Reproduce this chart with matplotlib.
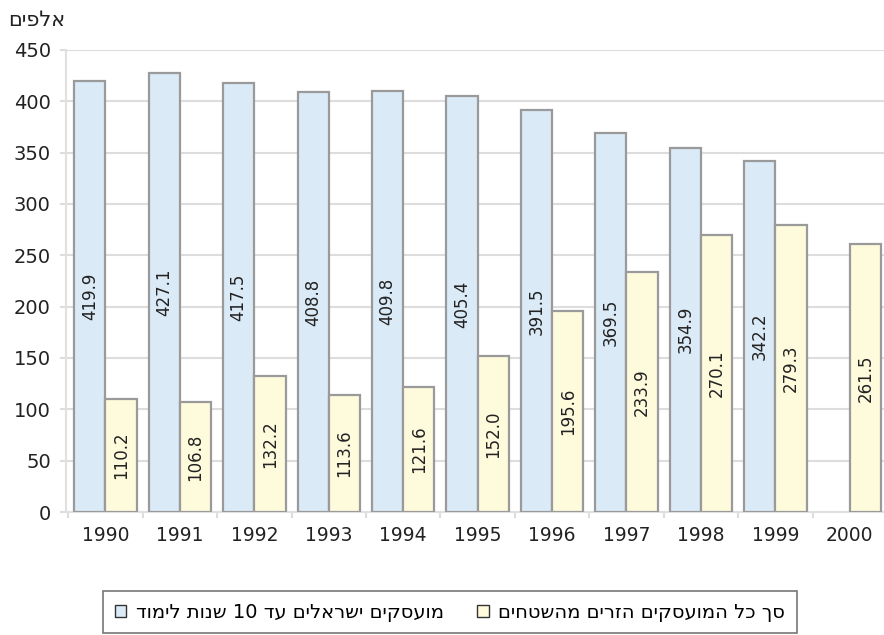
import matplotlib.pyplot as plt
import numpy as np

years = ['1990', '1991', '1992', '1993', '1994', '1995', '1996', '1997', '1998', '1999', '2000']
israeli = [419.9, 427.1, 417.5, 408.8, 409.8, 405.4, 391.5, 369.5, 354.9, 342.2, np.nan]
foreign = [110.2, 106.8, 132.2, 113.6, 121.6, 152.0, 195.6, 233.9, 270.1, 279.3, 261.5]

label_israeli = 'מועסקים ישראלים עד 10 שנות לימוד'
label_foreign = 'סך כל המועסקים הזרים מהשטחים'
unit_label = 'אלפים'


def visual(s):
    # matplotlib lays text out left to right, so flip hebrew by hand
    words = s.split(' ')[::-1]
    out = []
    for w in words:
        if any('\u0590' <= c <= '\u05ff' for c in w):
            out.append(w[::-1])
        else:
            out.append(w)
    return ' '.join(out)


plt.rcParams['font.family'] = ['DejaVu Sans']

fig = plt.figure(figsize=(8.84, 6.35), dpi=100)
ax = fig.add_axes([0.0747, 0.1937, 0.9253, 0.7276])

x = np.arange(len(years))
w = 0.42
edge = '#9a9a9a'

b1 = ax.bar(x - w / 2, israeli, w, color='#dbeaf7', edgecolor=edge, linewidth=1.6,
            label=visual(label_israeli), zorder=3)
b2 = ax.bar(x + w / 2, foreign, w, color='#fefadc', edgecolor=edge, linewidth=1.6,
            label=visual(label_foreign), zorder=3)

for xi, v in zip(x, israeli):
    if not np.isnan(v):
        ax.text(xi - w / 2, v / 2, f'{v:.1f}', rotation=90, ha='center', va='center',
                fontsize=12, color='#222222', zorder=4)
for xi, v in zip(x, foreign):
    ax.text(xi + w / 2, v / 2, f'{v:.1f}', rotation=90, ha='center', va='center',
            fontsize=12, color='#222222', zorder=4)

ax.set_xlim(-0.53, 10.46)
ax.set_ylim(0, 450)
ax.set_yticks(range(0, 451, 50))
ax.set_xticks(x)
ax.set_xticklabels(years)
ax.set_xticks(np.arange(-0.5, 10.5, 1), minor=True)

ax.grid(axis='y', color='#dddddd', linewidth=1.5, zorder=0)
for s in ['top', 'right']:
    ax.spines[s].set_visible(False)
ax.spines['left'].set_color('#e0e0e0')
ax.spines['left'].set_linewidth(1.5)
ax.spines['bottom'].set_color('#e0e0e0')
ax.spines['bottom'].set_linewidth(1.5)

ax.tick_params(axis='y', labelsize=14, length=4, color='#dddddd', width=1.5, pad=7,
               labelcolor='#222222')
ax.tick_params(axis='x', which='major', labelsize=13.5, length=0, pad=10, labelcolor='#222222')
ax.tick_params(axis='x', which='minor', length=4, color='#dddddd', width=1.5)

fig.text(0.009, 0.968, visual(unit_label), fontsize=15, color='#222222', ha='left', va='center')

leg = fig.legend(handles=[b1, b2], loc='center', bbox_to_anchor=(0.509, 0.036), ncol=2,
                 fontsize=14, frameon=True, fancybox=False, handlelength=0.6,
                 handleheight=0.6, handletextpad=0.5, columnspacing=1.7, borderpad=0.6)
leg.get_frame().set_edgecolor('#555555')
leg.get_frame().set_linewidth(1.2)
for h in leg.legend_handles:
    h.set_edgecolor('#333333')
    h.set_linewidth(1.0)

fig.savefig('out.png', dpi=100)
